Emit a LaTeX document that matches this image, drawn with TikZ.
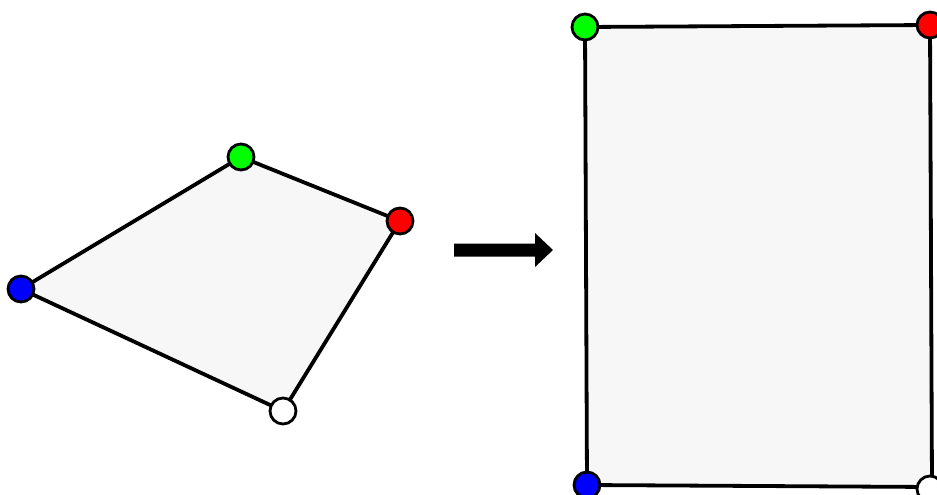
\documentclass[tikz,border=0pt]{standalone}
\begin{document}
\begin{tikzpicture}[x=1pt,y=-1pt,
  edge/.style={line width=3.8pt,line join=round},
  vtx/.style={circle,draw=black,line width=2.8pt,minimum size=26pt,inner sep=0pt},
  areafill/.style={fill=black!3}]
\clip (0,0) rectangle (937,495);
\useasboundingbox (0,0) rectangle (937,495);
% source quadrilateral
\coordinate (qg) at (241,157);
\coordinate (qr) at (400,221);
\coordinate (qw) at (283,411);
\coordinate (qb) at (21,289);
\fill[areafill] (qg) -- (qr) -- (qw) -- (qb) -- cycle;
\draw[edge] (qg) -- (qr) -- (qw) -- (qb) -- cycle;
\node[vtx,fill=green] (ng) at (qg) {};
\node[vtx,fill=red] (nr) at (qr) {};
\node[vtx,fill=white] (nw) at (qw) {};
\node[vtx,fill=blue] (nb) at (qb) {};
% mapping arrow
\coordinate (a0) at (454,250);
\coordinate (a1) at (553,250);
\fill (a0) ++(0,-6.5) -- ++(81,0) -- ++(0,-10.5) -- (a1) -- ++(-18,17) -- ++(0,-10.5) -- ++(-81,0) -- cycle;
% target rectangle
\coordinate (rg) at (585,27);
\coordinate (rr) at (930,25);
\coordinate (rw) at (932,487);
\coordinate (rb) at (587,485);
\fill[areafill] (rg) -- (rr) -- (rw) -- (rb) -- cycle;
\draw[edge] (rg) -- (rr) -- (rw) -- (rb) -- cycle;
\node[vtx,fill=green] (mg) at (rg) {};
\node[vtx,fill=red] (mr) at (rr) {};
\node[vtx,fill=white] (mw) at (930,489) {};
\node[vtx,fill=blue] (mb) at (rb) {};
\end{tikzpicture}
\end{document}
